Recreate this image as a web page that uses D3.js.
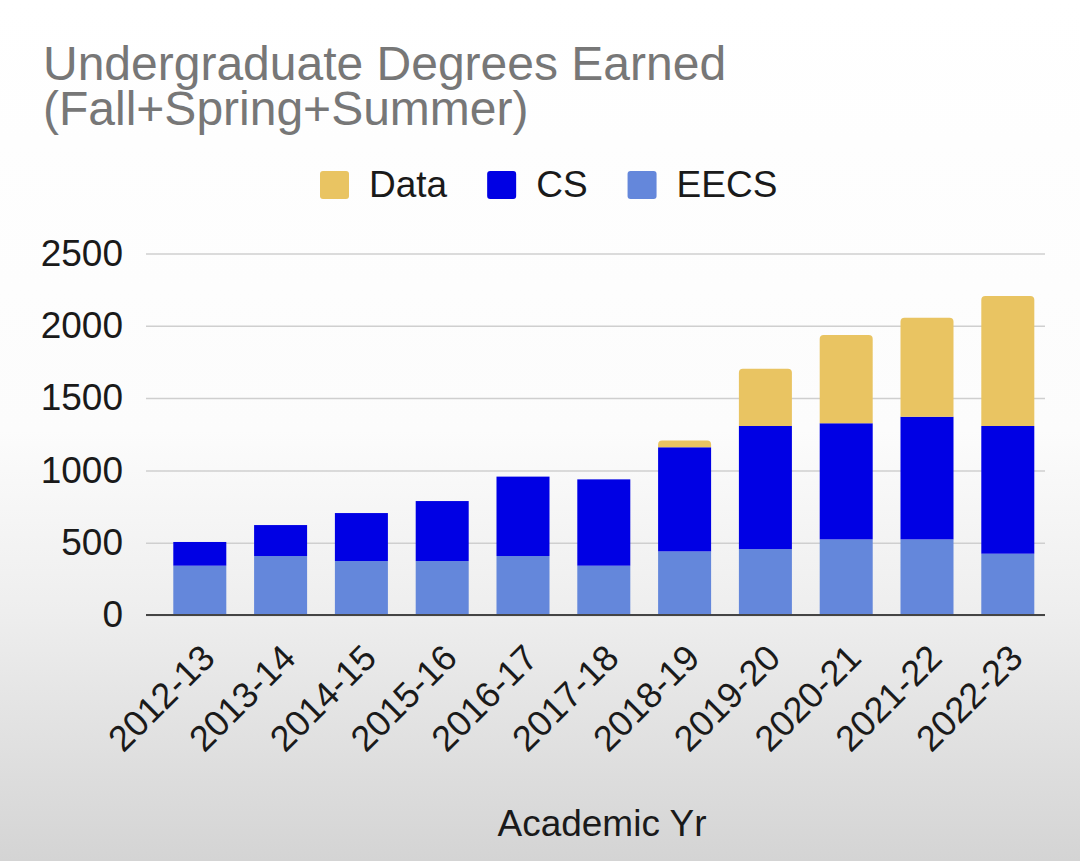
<!DOCTYPE html>
<html><head><meta charset="utf-8">
<script src="https://cdn.jsdelivr.net/npm/d3@7"></script>
<style>html,body{margin:0;padding:0;background:#fff;} svg{display:block;}</style>
</head><body><svg id="chart" width="1080" height="861"></svg>
<script>
const categories = ["2012-13","2013-14","2014-15","2015-16","2016-17","2017-18","2018-19","2019-20","2020-21","2021-22","2022-23"];
const eecsValues = [341, 408, 373, 373, 408, 341, 440, 456, 523, 523, 424];
const csValues   = [164, 214, 332, 415, 549, 597, 720, 851, 803, 848, 883];
const dataValues = [0, 0, 0, 0, 0, 0, 46, 396, 610, 685, 899];
const seriesNames = ["EECS", "CS", "Data"];
const seriesColors = ["#6487db", "#0000e4", "#e9c462"];
const legendOrder = ["Data", "CS", "EECS"];
const yTicks = [0, 500, 1000, 1500, 2000, 2500];
const titleLines = ["Undergraduate Degrees Earned", "(Fall+Spring+Summer)"];
const xAxisTitle = "Academic Yr";

const FONT = "'Liberation Sans', Arial, Helvetica, sans-serif";
const svg = d3.select("#chart");
const W = 1080, H = 861;

// background gradient
const defs = svg.append("defs");
const grad = defs.append("linearGradient").attr("id","bg").attr("x1",0).attr("y1",0).attr("x2",0).attr("y2",1);
[[0,"#ffffff"],[0.5,"#fcfcfc"],[0.71,"#eeeeee"],[1,"#d4d4d4"]].forEach(([o,c]) =>
  grad.append("stop").attr("offset", o).attr("stop-color", c));
svg.append("rect").attr("width", W).attr("height", H).attr("fill", "url(#bg)");

const rows = categories.map((c, i) => ({cat: c, EECS: eecsValues[i], CS: csValues[i], Data: dataValues[i]}));
const stack = d3.stack().keys(seriesNames)(rows);
const color = d3.scaleOrdinal().domain(seriesNames).range(seriesColors);

const gridX0 = 146, gridX1 = 1045;
const x = d3.scaleBand().domain(categories).range([159.4, 1048.2]).paddingInner(0.344).paddingOuter(0.172);
const y = d3.scaleLinear().domain([0, 2500]).range([615, 253.5]);

// y axis with gridlines
const yAxis = svg.append("g").attr("transform", `translate(${gridX0},0)`)
  .call(d3.axisLeft(y).tickValues(yTicks).tickSize(-(gridX1 - gridX0)).tickPadding(23).tickFormat(d3.format("d")));
yAxis.select(".domain").remove();
yAxis.selectAll(".tick line").attr("stroke", "#cfcfcf").attr("stroke-width", 1.5);
yAxis.selectAll(".tick text").attr("font-family", FONT).attr("font-size", 37).attr("fill", "#1a1a1a");

// bars
function roundTop(x0, y0, w, h, r) {
  r = Math.min(r, h, w / 2);
  return `M${x0},${y0 + h}V${y0 + r}Q${x0},${y0} ${x0 + r},${y0}H${x0 + w - r}Q${x0 + w},${y0} ${x0 + w},${y0 + r}V${y0 + h}Z`;
}
stack.forEach(layer => {
  const g = svg.append("g").attr("fill", color(layer.key));
  layer.forEach(d => {
    const v = d[1] - d[0];
    if (v <= 0) return;
    const x0 = x(d.data.cat), w = x.bandwidth();
    const yTop = y(d[1]), h = y(d[0]) - y(d[1]);
    if (layer.key === "Data") {
      g.append("path").attr("d", roundTop(x0, yTop, w, h, 4));
    } else {
      g.append("rect").attr("x", x0).attr("y", yTop).attr("width", w).attr("height", h);
    }
  });
});

// baseline
svg.append("line").attr("x1", gridX0).attr("x2", gridX1).attr("y1", y(0)).attr("y2", y(0))
  .attr("stroke", "#444").attr("stroke-width", 2);

// x axis labels
const xAxis = svg.append("g").attr("transform", `translate(0,${y(0)})`)
  .call(d3.axisBottom(x).tickSize(0));
xAxis.select(".domain").remove();
xAxis.selectAll(".tick text")
  .attr("x", 0).attr("y", 0).attr("dy", 0)
  .attr("text-anchor", "end")
  .attr("transform", "translate(17,45) rotate(-45)")
  .attr("font-family", FONT).attr("font-size", 36).attr("fill", "#1a1a1a");

// title
svg.append("text").attr("font-family", FONT).attr("font-size", 48).attr("fill", "#777")
  .selectAll("tspan").data(titleLines).join("tspan")
  .attr("x", 43).attr("y", (d, i) => 80 + i * 45).text(d => d);

// legend
const legend = svg.append("g").attr("font-family", FONT).attr("font-size", 37).attr("fill", "#1a1a1a");
let lx = 320;
legendOrder.forEach(name => {
  legend.append("rect").attr("x", lx).attr("y", 171).attr("width", 29).attr("height", 28).attr("rx", 3)
    .attr("fill", color(name));
  const t = legend.append("text").attr("x", lx + 49).attr("y", 197).text(name);
  lx += 49 + t.node().getComputedTextLength() + 40;
});

// x axis title
svg.append("text").attr("x", 602).attr("y", 836).attr("text-anchor", "middle")
  .attr("font-family", FONT).attr("font-size", 37).attr("fill", "#1a1a1a").text(xAxisTitle);
</script>
</body></html>
